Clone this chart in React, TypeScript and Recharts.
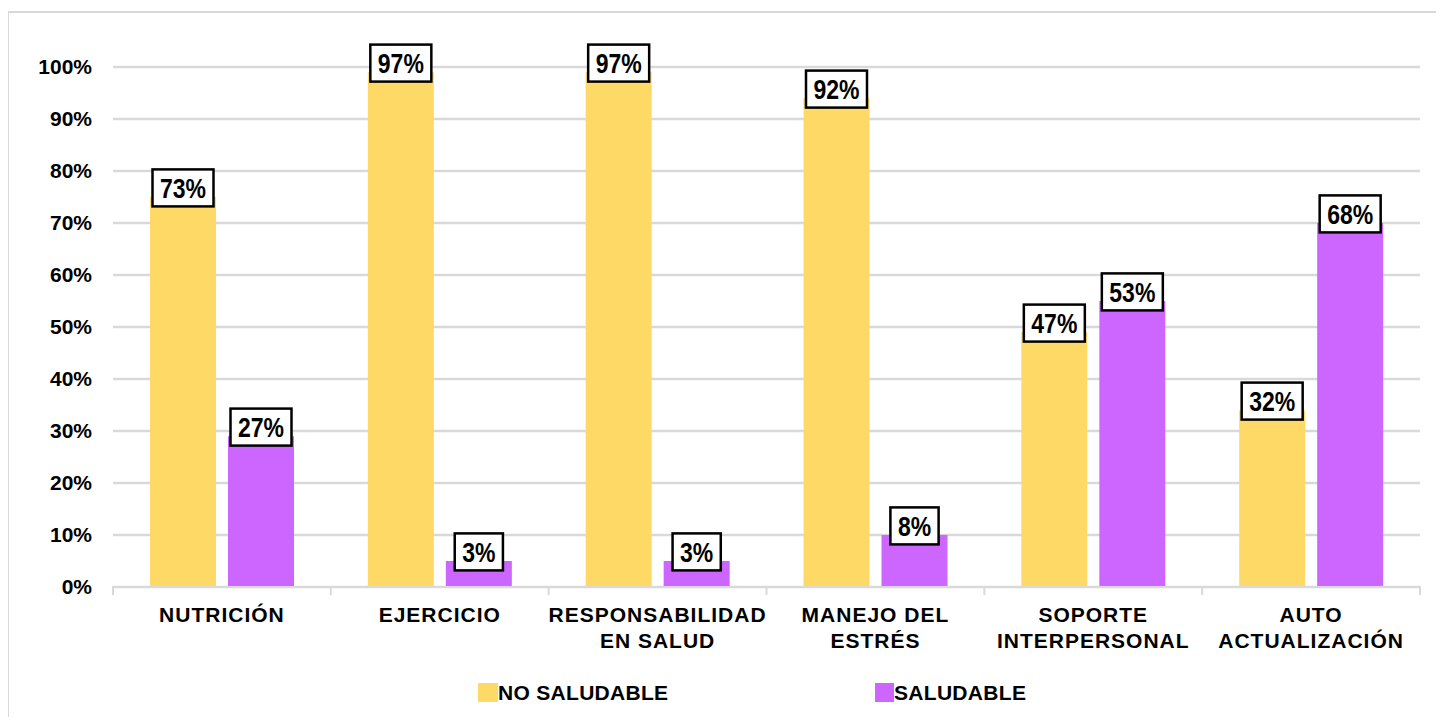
import React from 'react';
import { BarChart, Bar, XAxis, YAxis, CartesianGrid, LabelList } from 'recharts';

const categories = [
  'NUTRICIÓN',
  'EJERCICIO',
  'RESPONSABILIDAD\nEN SALUD',
  'MANEJO DEL\nESTRÉS',
  'SOPORTE\nINTERPERSONAL',
  'AUTO\nACTUALIZACIÓN',
];

// bar heights as drawn in the picture
const noSaludable = [75, 99, 99, 94, 49, 34];
const saludable = [29, 5, 5, 10, 55, 70];

// numbers printed in the label boxes
const noSaludableLabels = [73, 97, 97, 92, 47, 32];
const saludableLabels = [27, 3, 3, 8, 53, 68];

const yTicks = [0, 10, 20, 30, 40, 50, 60, 70, 80, 90, 100];

const YELLOW = '#FFD966';
const PURPLE = '#CC66FF';
const GRID = '#D9D9D9';
const FONT = "'Liberation Sans', Arial, sans-serif";

const data = categories.map((name, i) => ({
  name,
  noSaludable: noSaludable[i],
  saludable: saludable[i],
  noSaludableLabel: noSaludableLabels[i],
  saludableLabel: saludableLabels[i],
}));

// box sits with its bottom edge on the printed value, not on the bar top
const BoxLabel = (props: any) => {
  const { x, y, width, height, value, index, bars } = props;
  const text = `${value}%`;
  const digits = String(value).length;
  const textW = digits * 12.8 + 20.4;
  const boxW = textW + 15;
  const boxH = 37;
  const cx = x + width / 2;
  const perUnit = height / bars[index];
  const bottom = y + height - value * perUnit - 1;
  const top = bottom - boxH;
  return (
    <g>
      <rect x={cx - boxW / 2} y={top} width={boxW} height={boxH} fill="#fff" stroke="#000" strokeWidth={2.5} />
      <text
        x={cx}
        y={top + boxH / 2 + 10}
        textAnchor="middle"
        fontFamily={FONT}
        fontWeight="bold"
        fontSize={27}
        fill="#000"
        textLength={textW}
        lengthAdjust="spacingAndGlyphs"
      >
        {text}
      </text>
    </g>
  );
};

// category label plus the small tick marks at the category edges
const CategoryTick = (props: any) => {
  const { x, y, payload, index } = props;
  const half = payload?.offset ?? 0;
  const lines = String(payload.value).split('\n');
  return (
    <g transform={`translate(${x},${y})`}>
      {half > 0 && <line x1={-half} x2={-half} y1={-9} y2={0} stroke={GRID} strokeWidth={2} />}
      {half > 0 && index === categories.length - 1 && (
        <line x1={half} x2={half} y1={-9} y2={0} stroke={GRID} strokeWidth={2} />
      )}
      <text textAnchor="middle" fontFamily={FONT} fontWeight="bold" fontSize={21} fill="#000" letterSpacing={1}>
        {lines.map((l, i) => (
          <tspan key={i} x={0} y={27 + i * 26}>
            {l}
          </tspan>
        ))}
      </text>
    </g>
  );
};

export default function App() {
  return (
    <div style={{ position: 'relative', margin: -8, width: 1444, height: 725, background: '#fff', overflow: 'hidden' }}>
      <div
        style={{
          position: 'absolute',
          left: 7,
          top: 11,
          width: 1460,
          height: 740,
          borderLeft: `2px solid ${GRID}`,
          borderTop: `2px solid ${GRID}`,
        }}
      />
      <div style={{ position: 'absolute', left: 0, top: 0 }}>
        <BarChart
          width={1444}
          height={725}
          data={data}
          margin={{ top: 67, right: 24, left: 0, bottom: 58 }}
          barCategoryGap={37}
          barGap={12}
        >
          <CartesianGrid horizontal vertical={false} stroke={GRID} strokeWidth={2.5} />
          <XAxis
            dataKey="name"
            height={80}
            axisLine={{ stroke: GRID, strokeWidth: 2 }}
            tickLine={false}
            interval={0}
            tick={<CategoryTick />}
          />
          <YAxis
            domain={[0, 100]}
            ticks={yTicks}
            width={113}
            axisLine={false}
            tickLine={false}
            tickMargin={15}
            tickFormatter={(v: number) => `${v}%`}
            tick={{ fill: '#000', fontSize: 21, fontWeight: 'bold', fontFamily: FONT }}
          />
          <Bar dataKey="noSaludable" fill={YELLOW} isAnimationActive={false}>
            <LabelList dataKey="noSaludableLabel" content={(p: any) => <BoxLabel {...p} bars={noSaludable} />} />
          </Bar>
          <Bar dataKey="saludable" fill={PURPLE} isAnimationActive={false}>
            <LabelList dataKey="saludableLabel" content={(p: any) => <BoxLabel {...p} bars={saludable} />} />
          </Bar>
        </BarChart>
      </div>
      <div
        style={{
          position: 'absolute',
          top: 683,
          left: 478,
          display: 'flex',
          fontFamily: FONT,
          fontWeight: 'bold',
          fontSize: 21,
          letterSpacing: 0.3,
          color: '#000',
        }}
      >
        <div style={{ display: 'flex', alignItems: 'center', width: 397 }}>
          <span style={{ width: 20, height: 19, background: YELLOW, display: 'inline-block' }} />
          <span style={{ lineHeight: '19px' }}>NO SALUDABLE</span>
        </div>
        <div style={{ display: 'flex', alignItems: 'center' }}>
          <span style={{ width: 19, height: 19, background: PURPLE, display: 'inline-block' }} />
          <span style={{ lineHeight: '19px' }}>SALUDABLE</span>
        </div>
      </div>
    </div>
  );
}
